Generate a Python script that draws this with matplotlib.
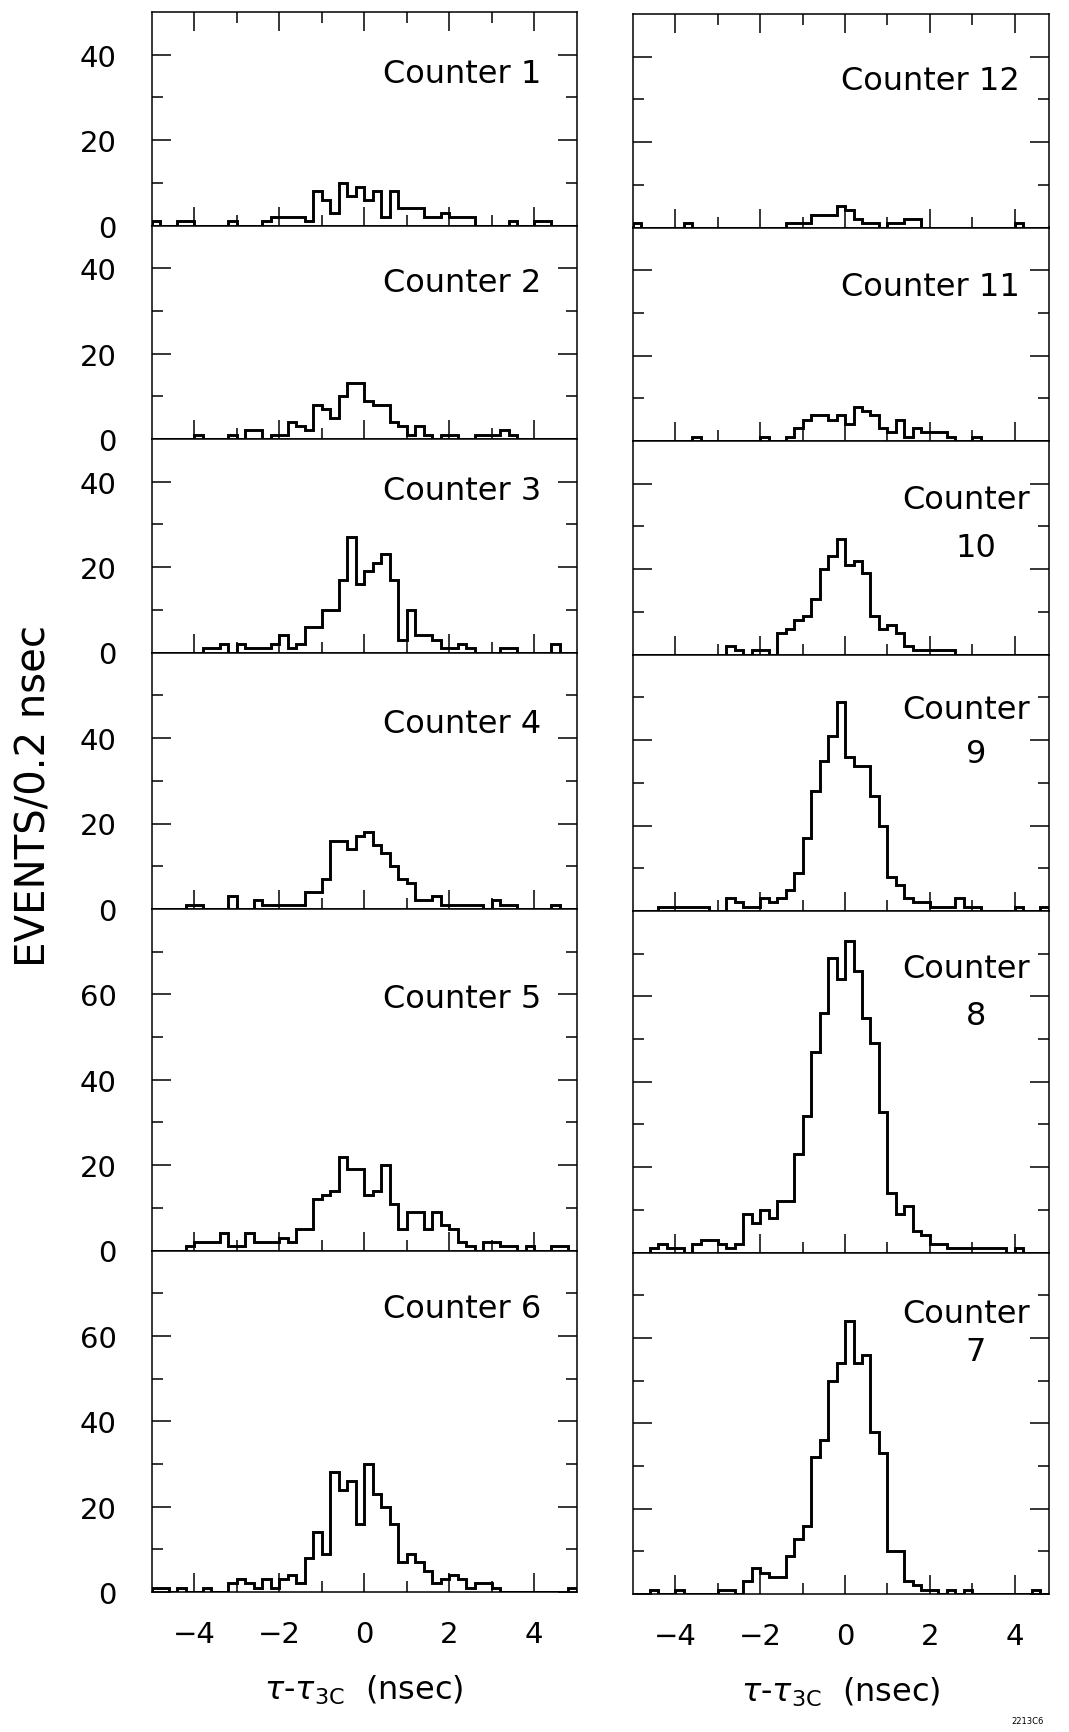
import numpy as np
import matplotlib
matplotlib.use("Agg")
import matplotlib.pyplot as plt

plt.rcParams['font.family'] = ['DejaVu Sans']
plt.rcParams['mathtext.fontset'] = 'dejavusans'

# time bins: 0.2 nsec wide from -5 to 5 nsec
bin_width = 0.2
t_start = -5.0

# events per bin (left column, top to bottom)
counter1 = [1, 0, 0, 1, 1, 0, 0, 0, 0, 1, 0, 0, 0, 1, 2, 2, 2, 2, 1, 8,
            6, 3, 10, 7, 9, 6, 8, 2, 8, 4, 4, 4, 2, 2, 3, 2, 2, 2, 0, 0,
            0, 0, 1, 0, 0, 1, 1, 0, 0, 0]
counter2 = [0, 0, 0, 0, 0, 1, 0, 0, 0, 1, 0, 2, 2, 0, 1, 1, 4, 3, 2, 8,
            7, 5, 10, 13, 13, 9, 8, 8, 4, 3, 1, 3, 1, 0, 1, 1, 0, 0, 1, 1,
            1, 2, 1, 0, 0, 0, 0, 0, 0, 0]
counter3 = [0, 0, 0, 0, 0, 0, 1, 1, 2, 0, 2, 1, 1, 1, 2, 4, 1, 2, 6, 6,
            10, 10, 17, 27, 16, 19, 21, 23, 17, 3, 10, 4, 4, 3, 1, 1, 2, 1, 0, 0,
            0, 1, 1, 0, 0, 0, 0, 2, 0, 0]
counter4 = [0, 0, 0, 0, 1, 1, 0, 0, 0, 3, 0, 0, 2, 1, 1, 1, 1, 1, 4, 4,
            7, 16, 16, 14, 17, 18, 15, 13, 10, 7, 6, 2, 2, 3, 1, 1, 1, 1, 1, 0,
            2, 1, 1, 0, 0, 0, 0, 1, 0, 0]
counter5 = [0, 0, 0, 0, 1, 2, 2, 2, 4, 1, 1, 4, 2, 2, 2, 3, 2, 5, 5, 12,
            13, 14, 22, 19, 19, 13, 14, 20, 11, 5, 9, 9, 5, 9, 6, 5, 2, 1, 0, 2,
            2, 1, 1, 0, 1, 0, 0, 1, 1, 0]
counter6 = [1, 1, 0, 1, 0, 0, 1, 0, 0, 2, 3, 2, 1, 3, 1, 3, 4, 2, 8, 14,
            9, 28, 24, 26, 16, 30, 23, 20, 16, 7, 9, 7, 5, 2, 3, 4, 3, 1, 2, 2,
            1, 0, 0, 0, 0, 0, 0, 0, 0, 1]

# right column, top to bottom
counter12 = [1, 0, 0, 0, 0, 0, 1, 0, 0, 0, 0, 0, 0, 0, 0, 0, 0, 0, 1, 1,
             1, 3, 3, 3, 5, 4, 2, 1, 1, 0, 1, 1, 2, 2, 0, 0, 0, 0, 0, 0,
             0, 0, 0, 0, 0, 1, 0, 0, 0, 0]
counter11 = [0, 0, 0, 0, 0, 0, 0, 1, 0, 0, 0, 0, 0, 0, 0, 1, 0, 0, 1, 3,
             5, 6, 6, 5, 6, 4, 8, 7, 6, 3, 2, 5, 1, 3, 2, 2, 2, 1, 0, 0,
             1, 0, 0, 0, 0, 0, 0, 0, 0, 0]
counter10 = [0, 0, 0, 0, 0, 0, 0, 0, 0, 0, 0, 2, 1, 0, 1, 1, 0, 5, 6, 8,
             9, 13, 20, 23, 27, 21, 22, 19, 9, 6, 7, 5, 2, 1, 1, 1, 1, 1, 0, 0,
             0, 0, 0, 0, 0, 0, 0, 0, 0, 0]
counter9 = [0, 0, 0, 1, 1, 1, 1, 1, 1, 0, 0, 3, 2, 1, 1, 3, 2, 3, 5, 9,
            17, 28, 35, 41, 49, 36, 34, 34, 27, 20, 8, 6, 3, 2, 2, 1, 1, 1, 3, 1,
            1, 0, 0, 0, 0, 1, 0, 0, 1, 0]
counter8 = [0, 0, 1, 2, 1, 1, 0, 2, 3, 3, 2, 1, 2, 9, 7, 10, 8, 12, 12, 23,
            32, 47, 56, 69, 64, 73, 66, 55, 49, 33, 14, 9, 11, 5, 4, 2, 2, 1, 1, 1,
            1, 1, 1, 1, 0, 1, 0, 0, 0, 0]
counter7 = [0, 0, 1, 0, 0, 1, 0, 0, 0, 0, 1, 1, 0, 3, 6, 5, 4, 4, 9, 13,
            16, 32, 36, 50, 54, 64, 54, 56, 38, 33, 10, 10, 3, 2, 1, 1, 0, 1, 0, 1,
            0, 0, 0, 0, 0, 0, 0, 1, 0, 0]

left_counts = [counter1, counter2, counter3, counter4, counter5, counter6]
right_counts = [counter12, counter11, counter10, counter9, counter8, counter7]
left_names = ["Counter 1", "Counter 2", "Counter 3", "Counter 4", "Counter 5", "Counter 6"]
right_names = ["Counter 12", "Counter 11", "Counter", "Counter", "Counter", "Counter"]
right_numbers = ["", "", "10", "9", "8", "7"]
panel_tops = [50, 50, 50, 60, 80, 80]

edges = t_start + bin_width * np.arange(len(counter1) + 1)

W, H = 1069, 1733
fig = plt.figure(figsize=(W / 100, H / 100), dpi=100)

# pixel layout of the two columns (frame edges) and their x ranges
left_x = (151.5, 576.5)
right_x = (633.0, 1049.0)
left_lim = (-5.0, 5.0)
right_lim = (-5.0, 4.81)
left_y = [13, 226.5, 440, 653.5, 910, 1251.5, 1593]
right_y = [15, 228.5, 442, 655.5, 912, 1253.5, 1595]

# label positions (pixel x, axes-fraction y)
left_txt_x = 541
right_txt_x = [1020, 1020, 1030, 1030, 1030, 1030]
right_num_x = 976
left_txt_y = [0.67, 0.693, 0.72, 0.69, 0.713, 0.805]
right_txt_y = [0.649, 0.684, 0.686, 0.753, 0.807, 0.797]
right_num_y = [0, 0, 0.46, 0.58, 0.669, 0.685]


def add_panel(xr, y0, y1):
    return fig.add_axes([xr[0] / W, 1 - y1 / H, (xr[1] - xr[0]) / W, (y1 - y0) / H])


def style(ax, lim, top, first, last, show_y):
    ax.set_xlim(*lim)
    ax.set_ylim(0, top)
    ax.set_xticks([-4, -2, 0, 2, 4])
    ax.set_xticks([-3, -1, 1, 3], minor=True)
    ax.set_yticks(list(range(0, top, 20)))
    ax.set_yticks(list(range(10, top, 20)), minor=True)
    ax.tick_params(which='major', direction='in', length=14, width=1.1)
    ax.tick_params(which='minor', direction='in', length=8, width=1.1)
    ax.tick_params(axis='x', top=first, bottom=True, labelbottom=last,
                   labelsize=21, pad=20)
    ax.tick_params(axis='x', which='minor', top=first, bottom=True)
    ax.tick_params(axis='y', which='both', left=True, right=True,
                   labelleft=show_y, labelsize=21, pad=25)
    for s in ax.spines.values():
        s.set_linewidth(1.1)
    if last:
        ax.set_xlabel(r'$\tau$-$\tau_{\mathrm{3C}}$  (nsec)', fontsize=23, labelpad=18)


def fig_to_axes_x(ax, px):
    x0, x1 = ax.get_position().x0 * W, ax.get_position().x1 * W
    return (px - x0) / (x1 - x0)


for i in range(6):
    ax = add_panel(left_x, left_y[i], left_y[i + 1])
    ax.stairs(left_counts[i], edges, color='black', linewidth=2.1, baseline=0)
    style(ax, left_lim, panel_tops[i], i == 0, i == 5, True)
    ax.text(fig_to_axes_x(ax, left_txt_x), left_txt_y[i], left_names[i],
            transform=ax.transAxes, ha='right', va='baseline', fontsize=23)

    ax = add_panel(right_x, right_y[i], right_y[i + 1])
    ax.stairs(right_counts[i], edges, color='black', linewidth=2.1, baseline=0)
    style(ax, right_lim, panel_tops[i], i == 0, i == 5, False)
    ax.text(fig_to_axes_x(ax, right_txt_x[i]), right_txt_y[i], right_names[i],
            transform=ax.transAxes, ha='right', va='baseline', fontsize=23)
    if right_numbers[i]:
        ax.text(fig_to_axes_x(ax, right_num_x), right_num_y[i], right_numbers[i],
                transform=ax.transAxes, ha='center', va='baseline', fontsize=23)

fig.text(35 / W, 1 - 796 / H, 'EVENTS/0.2 nsec', rotation=90,
         ha='center', va='center', fontsize=29)
fig.text(1028 / W, 1 - 1722 / H, '2213C6', ha='center', va='center', fontsize=6)

fig.savefig('out.png', dpi=100)
